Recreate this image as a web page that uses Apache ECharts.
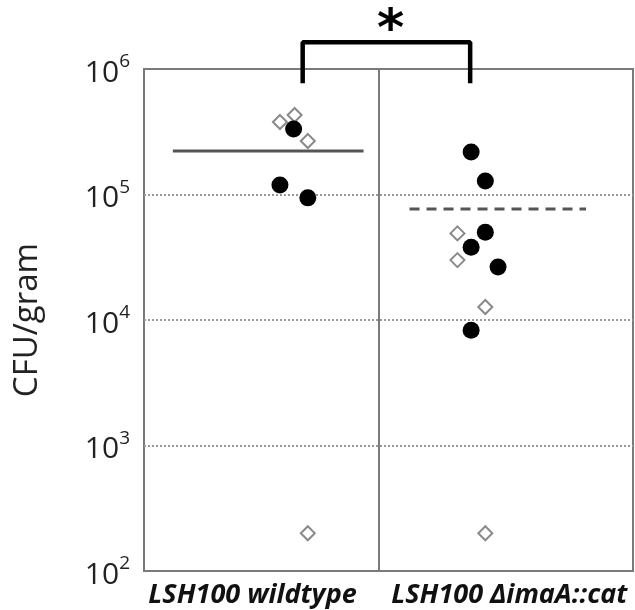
<!DOCTYPE html>
<html>
<head>
<meta charset="utf-8">
<script src="https://cdn.jsdelivr.net/npm/echarts@6/dist/echarts.min.js"></script>
<style>html,body{margin:0;padding:0;background:#fff;}#c{width:635px;height:610px;}</style>
</head>
<body>
<div id="c"></div>
<script>
// ---- data ----
var groups = ['LSH100 wildtype', 'LSH100 \u0394imaA::cat'];
var groupLabelX = [0.222, 0.747];     // label anchor along the x scale
var dividerX = 0.4816;
var yTicks = [100, 1000, 10000, 100000, 1000000];
// each point: [x position (jitter within panel), CFU/gram]
var wtCircles = [[0.306, 3.33e5], [0.278, 1.19e5], [0.335, 9.4e4]];
var wtDiamonds = [[0.278, 3.78e5], [0.308, 4.3e5], [0.335, 2.67e5], [0.335, 2.0e2]];
var mutCircles = [[0.669, 2.18e5], [0.698, 1.28e5], [0.698, 5.0e4], [0.669, 3.8e4], [0.724, 2.64e4], [0.669, 8.3e3]];
var mutDiamonds = [[0.641, 4.9e4], [0.641, 3.0e4], [0.698, 1.27e4], [0.698, 2.0e2]];
var wtMean = [[0.059, 2.22e5], [0.449, 2.22e5]];
var mutMean = [[0.543, 7.66e4], [0.904, 7.66e4]];
var bracket = [[0.3245, 7.7e5], [0.3245, 1.63e6], [0.667, 1.63e6], [0.667, 7.7e5]];

var chart = echarts.init(document.getElementById('c'));
var supMap = {100: '2', 1000: '3', 10000: '4', 100000: '5', 1000000: '6'};
chart.setOption({
  animation: false,
  title: {
    text: '*', left: 372, top: 0,
    textStyle: {fontSize: 52, fontWeight: 'bold', color: '#000', fontFamily: 'DejaVu Sans'}
  },
  grid: {left: 144, right: 2, top: 69, bottom: 39, show: true, borderColor: '#7a7a7a', borderWidth: 2,
    containLabel: false, outerBoundsMode: 'none'},
  xAxis: {
    type: 'value', min: 0, max: 1,
    axisLine: {show: false}, splitLine: {show: false},
    axisTick: {show: false},
    axisLabel: {
      customValues: groupLabelX,
      formatter: function (v) { return Math.abs(v - groupLabelX[0]) < 0.01 ? groups[0] : groups[1]; },
      fontFamily: 'Open Sans', fontSize: 27, fontStyle: 'italic', fontWeight: 'bold', color: '#111', margin: 11
    }
  },
  yAxis: {
    type: 'log', logBase: 10, min: 100, max: 1000000,
    name: 'CFU/gram', nameLocation: 'middle', nameGap: 100, nameRotate: 90,
    nameTextStyle: {fontFamily: 'Open Sans', fontSize: 33, color: '#222'},
    axisLine: {show: false},
    axisTick: {show: false},
    splitLine: {show: true, showMinLine: false, showMaxLine: false,
      lineStyle: {color: '#999', type: [2, 2], width: 2}},
    axisLabel: {
      margin: 14,
      formatter: function (v) { return '{b|10}{s|' + supMap[Math.round(v)] + '}'; },
      rich: {
        b: {fontFamily: 'Open Sans', fontSize: 30, color: '#222', padding: [8, 0, 0, 0]},
        s: {fontFamily: 'Open Sans', fontSize: 19, color: '#222', padding: [0, 0, 14, 0]}
      }
    }
  },
  series: [
    {
      type: 'line', data: bracket, symbol: 'none', clip: false,
      lineStyle: {color: '#000', width: 4.5}, z: 5,
      markLine: {
        silent: true, symbol: 'none', label: {show: false},
        lineStyle: {color: '#7a7a7a', width: 2, type: 'solid'},
        data: [{xAxis: dividerX}]
      }
    },
    {type: 'line', data: wtMean, symbol: 'none', lineStyle: {color: '#555', width: 3}},
    {type: 'line', data: mutMean, symbol: 'none', lineStyle: {color: '#555', width: 3, type: [10, 7]}},
    {type: 'scatter', data: wtDiamonds, symbol: 'diamond', symbolSize: 14,
      itemStyle: {color: '#fff', borderColor: '#8a8a8a', borderWidth: 2, opacity: 1}, z: 3},
    {type: 'scatter', data: mutDiamonds, symbol: 'diamond', symbolSize: 14,
      itemStyle: {color: '#fff', borderColor: '#8a8a8a', borderWidth: 2, opacity: 1}, z: 3},
    {type: 'scatter', data: wtCircles, symbol: 'circle', symbolSize: 17,
      itemStyle: {color: '#000', opacity: 1}, z: 4},
    {type: 'scatter', data: mutCircles, symbol: 'circle', symbolSize: 17,
      itemStyle: {color: '#000', opacity: 1}, z: 4}
  ]
});
</script>
</body>
</html>
